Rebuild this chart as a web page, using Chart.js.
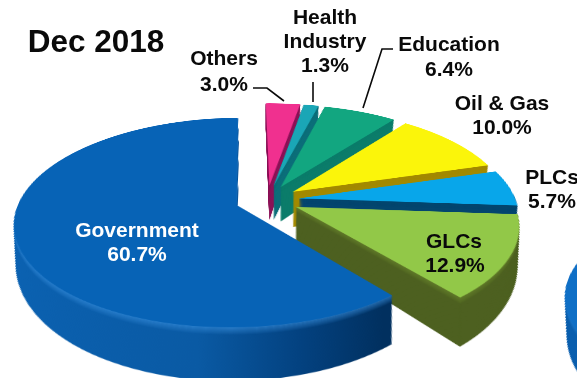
<!DOCTYPE html>
<html>
<head>
<meta charset="utf-8">
<title>Dec 2018</title>
<script src="https://cdn.jsdelivr.net/npm/chart.js@4/dist/chart.umd.min.js"></script>
<style>
html, body { margin: 0; padding: 0; background: #fff; }
#stage { position: relative; width: 577px; height: 378px; overflow: hidden; }
/* tilted plane the pies are drawn on; 400,400 is the pie centre */
canvas.tilted { position: absolute; transform-origin: 400px 400px; transform: perspective(1168px) rotateX(62.5deg); }
#mainPie { left: -133px; top: -200px; }
#nextPie { left: 385px; top: -120px; }
#notes { position: absolute; left: 0; top: 0; }
#notes text { font-family: "Liberation Sans", Arial, sans-serif; font-weight: bold; font-size: 21px; text-anchor: middle; dominant-baseline: central; fill: #0a0a0a; }
#notes polyline { fill: none; stroke: #0a0a0a; stroke-width: 1.6; }
</style>
</head>
<body>
<div id="stage">
  <canvas id="nextPie" class="tilted" width="800" height="800"></canvas>
  <canvas id="mainPie" class="tilted" width="800" height="800"></canvas>
  <svg id="notes" width="577" height="378"></svg>
</div>
<script>
// Share of total, clockwise from twelve o'clock
var categories = ['Others', 'Health Industry', 'Education', 'Oil & Gas', 'PLCs', 'GLCs', 'Government'];
var shares = [3.0, 1.3, 6.4, 10.0, 5.7, 12.9, 60.7];

var topColors = ['#f0308f', '#1aa6b6', '#12a680', '#fbf50a', '#08a6ea', '#92c848', '#0763b6'];
var sideColors = ['#8c1458', '#0d6f7a', '#0b7c6a', '#a38a00', '#04466f', '#4d6020', '#02386f'];
var rimColors = ['#8c1458', '#0d6f7a', '#0b7c6a', '#a38a00', '#04466f', '#6e8c30', '#3a90de'];

// Neighbouring pie, only its left edge shows at the border of the page
var nextCategories = ['Government'];
var nextShares = [100];

var pieRadius = 217;
var depth = 74;

// Government wall fades from mid blue on the left to navy at the cut face
function governmentWall(ctx, arc) {
    var g = ctx.createLinearGradient(arc.x - 220, 0, arc.x + 130, 0);
    g.addColorStop(0, '#0b62b2');
    g.addColorStop(0.55, '#0a5aa4');
    g.addColorStop(0.8, '#03417f');
    g.addColorStop(1, '#01305f');
    return g;
}

// Paints each slice pulled out from the centre, with its side wall stacked underneath
function sliceWalls(pull, tops, sides, rims, wallFor) {
    return {
        id: 'sliceWalls',
        beforeDatasetDraw: function (chart, args) {
            var ctx = chart.ctx;
            args.meta.data.forEach(function (arc, i) {
                var mid = (arc.startAngle + arc.endAngle) / 2;
                var base = arc.options;
                var wall = wallFor ? wallFor(ctx, arc, i) : sides[i];

                function paint(color, alpha, d) {
                    arc.options = Object.assign({}, base, { backgroundColor: color, borderWidth: 0 });
                    ctx.save();
                    ctx.globalAlpha = alpha;
                    // lower layers sit further from the eye, so they narrow a little
                    ctx.translate(arc.x, d);
                    ctx.scale(1 - 0.0009 * d, 1);
                    ctx.translate(-arc.x, 0);
                    ctx.translate(Math.cos(mid) * pull, Math.sin(mid) * pull);
                    arc.draw(ctx);
                    ctx.restore();
                }

                for (var d = depth; d > 0; d -= 1) {
                    paint(wall, 1, d);
                    if (d < 12) paint(rims[i], 0.7 * (1 - d / 12), d);
                }
                paint(tops[i], 1, 0);
                arc.options = base;
            });
            return false;
        }
    };
}

new Chart(document.getElementById('mainPie'), {
    type: 'pie',
    data: {
        labels: categories,
        datasets: [{ data: shares, backgroundColor: topColors, borderWidth: 0 }]
    },
    options: {
        responsive: false,
        animation: false,
        radius: pieRadius,
        rotation: -1,
        plugins: { legend: { display: false }, tooltip: { enabled: false } }
    },
    plugins: [sliceWalls(32, topColors, sideColors, rimColors, function (ctx, arc, i) {
        return categories[i] === 'Government' ? governmentWall(ctx, arc) : sideColors[i];
    })]
});

new Chart(document.getElementById('nextPie'), {
    type: 'pie',
    data: {
        labels: nextCategories,
        datasets: [{ data: nextShares, backgroundColor: ['#0f6fc6'], borderWidth: 0 }]
    },
    options: {
        responsive: false,
        animation: false,
        radius: pieRadius,
        plugins: { legend: { display: false }, tooltip: { enabled: false } }
    },
    plugins: [sliceWalls(0, ['#0f6fc6'], ['#0b5fae'], ['#2a86d8'])]
});

// Annotations: title, slice labels and leader lines
var svgNS = 'http://www.w3.org/2000/svg';
var notes = document.getElementById('notes');

function addText(x, y, str, color, size) {
    var t = document.createElementNS(svgNS, 'text');
    t.setAttribute('x', x);
    t.setAttribute('y', y);
    if (color) t.style.fill = color;
    if (size) t.style.fontSize = size + 'px';
    t.textContent = str;
    notes.appendChild(t);
}

function addLeader(points) {
    var p = document.createElementNS(svgNS, 'polyline');
    p.setAttribute('points', points);
    notes.appendChild(p);
}

function pct(name) {
    return shares[categories.indexOf(name)].toFixed(1) + '%';
}

addText(96, 41, 'Dec 2018', '#0a0a0a', 31.5);
addText(224, 57, 'Others');
addText(224, 83, pct('Others'));
addText(325, 16, 'Health');
addText(325, 40, 'Industry');
addText(325, 64, pct('Health Industry'));
addText(449, 43, 'Education');
addText(449, 68, pct('Education'));
addText(502, 102, 'Oil & Gas');
addText(502, 126, pct('Oil & Gas'));
addText(552, 176, 'PLCs');
addText(552, 200, pct('PLCs'));
addText(454, 240, 'GLCs');
addText(455, 264, pct('GLCs'));
addText(137, 229, 'Government', '#fff');
addText(137, 253, pct('Government'), '#fff');

addLeader('253,88 267,88 284,101');
addLeader('313,82 313,102');
addLeader('393,49 382,49 363,108');
</script>
</body>
</html>
